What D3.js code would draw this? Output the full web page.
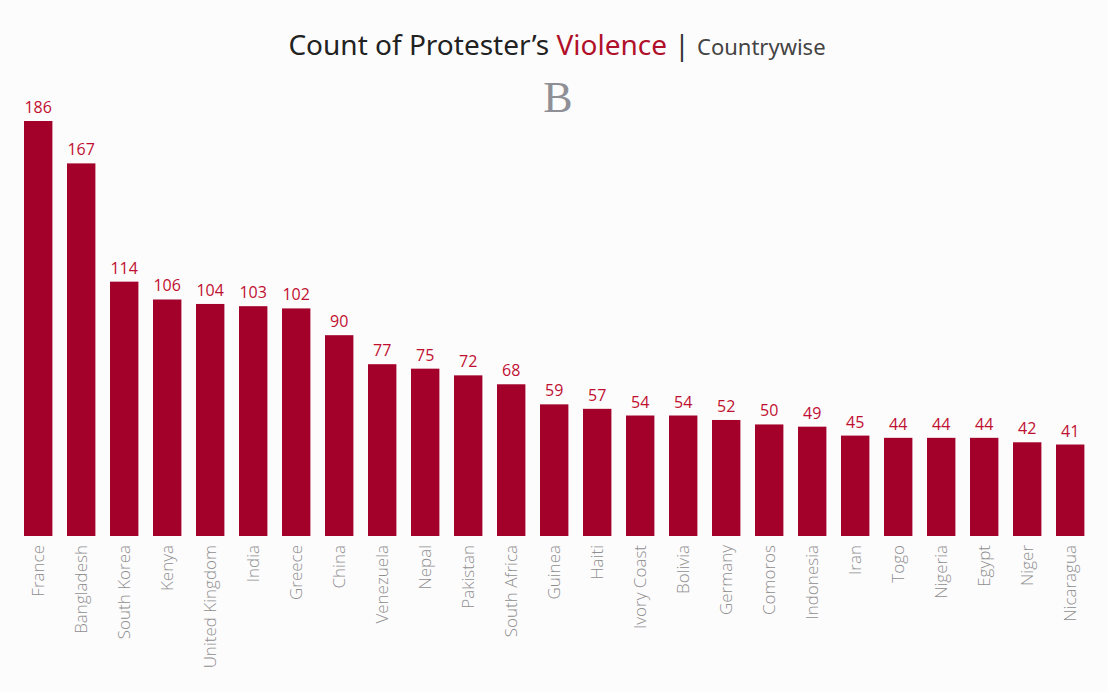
<!DOCTYPE html>
<html>
<head>
<meta charset="utf-8">
<script src="https://cdn.jsdelivr.net/npm/d3@7"></script>
<style>
  html, body { margin: 0; padding: 0; background: #fdfcfd; }
  svg { display: block; }
</style>
</head>
<body>
<svg id="chart" width="1108" height="692"></svg>
<script>
const countries = ["France","Bangladesh","South Korea","Kenya","United Kingdom","India","Greece","China","Venezuela","Nepal","Pakistan","South Africa","Guinea","Haiti","Ivory Coast","Bolivia","Germany","Comoros","Indonesia","Iran","Togo","Nigeria","Egypt","Niger","Nicaragua"];
const counts = [186,167,114,106,104,103,102,90,77,75,72,68,59,57,54,54,52,50,49,45,44,44,44,42,41];

const svg = d3.select("#chart");
const W = 1108, H = 692;

svg.append("rect").attr("width", W).attr("height", H).attr("fill", "#fdfcfd");

const x = d3.scaleBand().domain(countries).range([16.7, 1091.7]).paddingInner(0.34).paddingOuter(0.17);
const y = d3.scaleLinear().domain([0, 186]).range([536, 121]);

// Title
const title = svg.append("text")
  .attr("x", 557).attr("y", 55)
  .attr("text-anchor", "middle")
  .attr("font-family", "'Noto Sans', sans-serif");
title.append("tspan").attr("font-size", 28).attr("fill", "#222").text("Count of Protester\u2019s ");
title.append("tspan").attr("font-size", 28).attr("fill", "#b0102a").text("Violence");
title.append("tspan").attr("font-size", 28).attr("fill", "#333").text(" | ");
title.append("tspan").attr("font-size", 22).attr("fill", "#444").text("Countrywise");

svg.append("text")
  .attr("x", 558).attr("y", 112)
  .attr("text-anchor", "middle")
  .attr("font-family", "'Liberation Serif', 'DejaVu Serif', serif")
  .attr("font-size", 44)
  .attr("fill", "#8f8f96")
  .text("B");

// Bars
svg.append("g").selectAll("rect").data(countries).join("rect")
  .attr("x", d => x(d))
  .attr("width", x.bandwidth())
  .attr("y", (d, i) => y(counts[i]))
  .attr("height", (d, i) => y(0) - y(counts[i]))
  .attr("fill", "#a3002a");

// Value labels
svg.append("g").selectAll("text").data(countries).join("text")
  .attr("x", d => x(d) + x.bandwidth() / 2)
  .attr("y", (d, i) => y(counts[i]) - 8)
  .attr("text-anchor", "middle")
  .attr("font-family", "'Open Sans', sans-serif")
  .attr("font-size", 16)
  .attr("fill", "#c01030")
  .text((d, i) => counts[i]);

// X axis labels
const xAxis = d3.axisBottom(x).tickSize(0).tickPadding(0);
const gx = svg.append("g").attr("transform", "translate(0,545)").call(xAxis);
gx.select(".domain").remove();
gx.selectAll("text")
  .attr("transform", "rotate(-90)")
  .attr("x", 0).attr("y", 0).attr("dy", "0.35em")
  .attr("text-anchor", "end")
  .attr("font-family", "'Open Sans', sans-serif")
  .attr("font-weight", 300)
  .attr("font-size", 17)
  .attr("fill", "#8e8e8e");
</script>
</body>
</html>
